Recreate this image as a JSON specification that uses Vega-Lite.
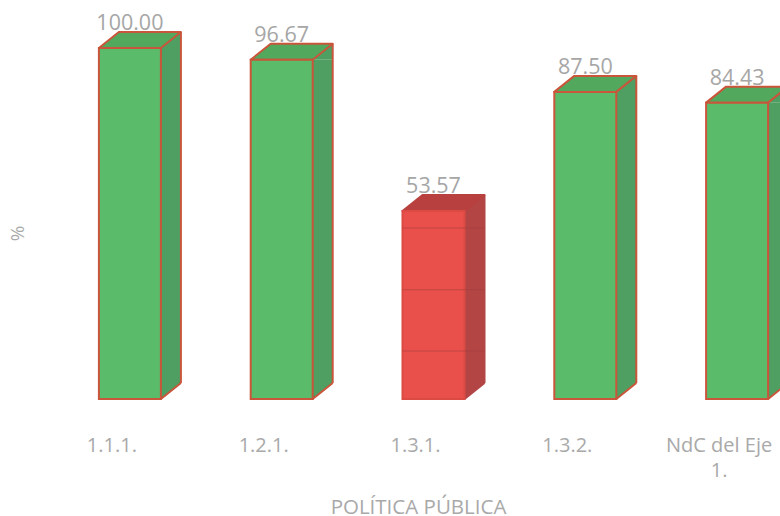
{
"$schema":"https://vega.github.io/schema/vega-lite/v6.json",
"width":726,"height":351,
"autosize":"none",
"padding":{"left":54,"top":48,"right":0,"bottom":117},
"background":"white",
"datasets":{
"bars":[
{"politica":"1.1.1.","valor":100.00,"nivel":"alto"},
{"politica":"1.2.1.","valor":96.67,"nivel":"alto"},
{"politica":"1.3.1.","valor":53.57,"nivel":"bajo"},
{"politica":"1.3.2.","valor":87.50,"nivel":"alto"},
{"politica":"NdC del Eje 1.","valor":84.43,"nivel":"alto"}],
"grid":[
{"politica":"1.3.1.","valor":13.7},
{"politica":"1.3.1.","valor":31.1},
{"politica":"1.3.1.","valor":48.7}]
},
"data":{"name":"bars"},
"encoding":{
"x":{"field":"politica","type":"nominal","sort":null,
"scale":{"type":"band","paddingInner":0,"paddingOuter":0,"range":[0,759]},
"axis":{"title":"POLÍTICA PÚBLICA","domain":false,"ticks":false,"labelAngle":0,"labelPadding":36,"labelOffset":-18,"labelFontSize":20,"labelColor":"#a9a9a9","labelFont":"Open Sans","labelLimit":300,"labelLineHeight":25,
"labelExpr":"datum.label == 'NdC del Eje 1.' ? ['NdC del Eje','1.'] : datum.label",
"titleFont":"Open Sans","titleFontSize":20.5,"titleFontWeight":"normal","titleColor":"#a9a9a9","titleY":98,"titleX":364}},
"y":{"field":"valor","type":"quantitative",
"scale":{"domain":[0,100],"nice":false},
"axis":{"title":"%","domain":false,"ticks":false,"labels":false,"grid":false,"titleFont":"Open Sans","titleFontSize":19,"titleFontWeight":"normal","titleColor":"#a9a9a9","titleX":-27,"titleY":185}}
},
"layer":[
{"mark":{"type":"text","font":"Open Sans","fontSize":21.5,"dy":-24,"baseline":"middle","color":"#a6a6a6"},
 "encoding":{"text":{"field":"valor","type":"quantitative","format":".2f"}}},
{"mark":{"type":"bar","width":20,"xOffset":41},
 "encoding":{"y2":{"datum":4.56},
 "fill":{"field":"nivel","type":"nominal","legend":null,"scale":{"domain":["alto","bajo"],"range":["#4f9f62","#b34545"]}}}},
{"mark":{"type":"point","filled":true,"size":4,"opacity":1,"strokeWidth":0,"shape":"M31,0 L51,-16 L51,0 Z"},
 "encoding":{"fill":{"field":"nivel","type":"nominal","legend":null,"scale":{"domain":["alto","bajo"],"range":["#4f9f62","#b34545"]}}}},
{"mark":{"type":"point","filled":true,"size":4,"opacity":1,"strokeWidth":0,"shape":"M31,0 L51,-16 L31,-16 Z"},
 "encoding":{"y":{"datum":0},"fill":{"field":"nivel","type":"nominal","legend":null,"scale":{"domain":["alto","bajo"],"range":["#4f9f62","#b34545"]}}}},
{"mark":{"type":"point","filled":false,"size":4,"opacity":1,"strokeWidth":2,"shape":"M31,0 L51,-16"},
 "encoding":{"y":{"datum":0},"stroke":{"field":"nivel","type":"nominal","legend":null,"scale":{"domain":["alto","bajo"],"range":["#c9553a","#b34545"]}}}},
{"mark":{"type":"bar","width":2,"xOffset":51,"yOffset":-16},
 "encoding":{"y2":{"datum":4.56},"fill":{"field":"nivel","type":"nominal","legend":null,"scale":{"domain":["alto","bajo"],"range":["#c9553a","#b34545"]}}}},
{"mark":{"type":"point","filled":true,"size":4,"opacity":1,"strokeWidth":2,"strokeJoin":"round","shape":"M-31,0 L-11,-16 L51,-16 L31,0 Z"},
 "encoding":{
 "fill":{"field":"nivel","type":"nominal","legend":null,"scale":{"domain":["alto","bajo"],"range":["#52a95e","#b8403e"]}},
 "stroke":{"field":"nivel","type":"nominal","legend":null,"scale":{"domain":["alto","bajo"],"range":["#c9553a","#b8403e"]}}}},
{"mark":{"type":"bar","width":62,"strokeWidth":2},
 "encoding":{"y2":{"datum":0},
 "fill":{"field":"nivel","type":"nominal","legend":null,"scale":{"domain":["alto","bajo"],"range":["#5abb6a","#e9504b"]}},
 "stroke":{"field":"nivel","type":"nominal","legend":null,"scale":{"domain":["alto","bajo"],"range":["#c9553a","#dc4a44"]}}}},
{"data":{"name":"grid"},
 "mark":{"type":"tick","thickness":1,"size":82,"xOffset":10,"color":"#a03c3a","opacity":0.55},
 "encoding":{"x":{"field":"politica","type":"nominal","sort":null},"y":{"field":"valor","type":"quantitative"}}}
],
"resolve":{"scale":{"fill":"independent","stroke":"independent"}},
"config":{"view":{"stroke":null}}
}
